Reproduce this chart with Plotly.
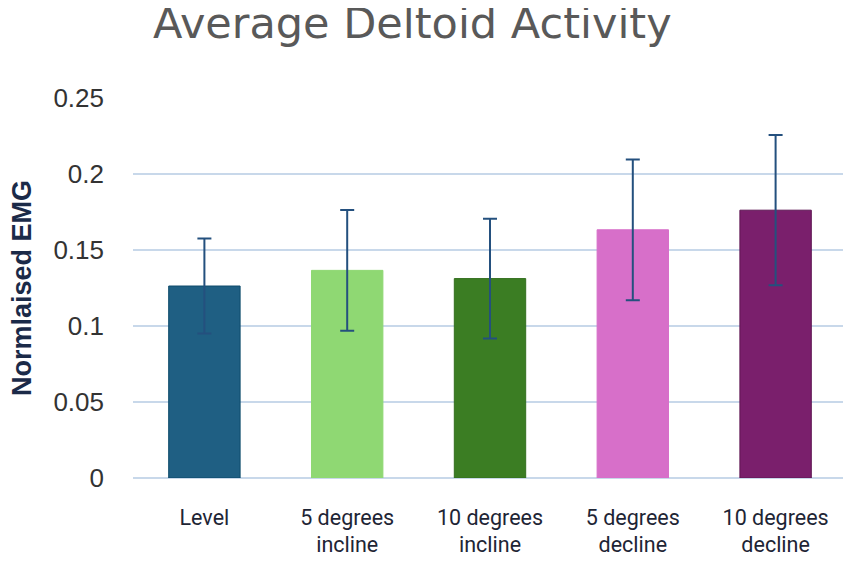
import plotly.graph_objects as go

categories = ["Level", "5 degrees<br>incline", "10 degrees<br>incline", "5 degrees<br>decline", "10 degrees<br>decline"]
means = [0.1263, 0.1366, 0.1312, 0.1633, 0.1762]
errors = [0.0312, 0.0397, 0.0394, 0.0463, 0.0494]
bar_colors = ["#1f5f83", "#8fd873", "#3b7d23", "#d76fc9", "#7a1f6c"]
line_colors = ["#0d4a6b", "#8fd873", "#346f1f", "#d76fc9", "#5e1653"]
y_ticks = [0, 0.05, 0.1, 0.15, 0.2, 0.25]
y_tick_text = ["0", "0.05", "0.1", "0.15", "0.2", "0.25"]

W, H = 843, 566  # page body has an 8px margin

fig = go.Figure()
fig.add_trace(go.Bar(
    x=categories,
    y=means,
    marker=dict(color=bar_colors, line=dict(color=line_colors, width=1)),
    error_y=dict(type="data", array=errors, visible=True,
                 color="#24507e", thickness=2, width=7),
    width=0.5,
))

fig.update_layout(
    width=W, height=H,
    paper_bgcolor="white", plot_bgcolor="white",
    margin=dict(l=125, r=4, t=90, b=96, autoexpand=False),
    showlegend=False,
    title=dict(text="Average Deltoid Activity",
               font=dict(family="DejaVu Sans", size=43, color="#595959"),
               x=145/W, xanchor="left", xref="container",
               y=1, yanchor="top", yref="container", automargin=False,
               pad=dict(t=0, b=0, l=0, r=0)),
    bargap=0.5,
)
fig.update_yaxes(
    range=[0, 0.25], automargin=False,
    tickvals=y_ticks, ticktext=y_tick_text,
    showgrid=True, gridcolor="#c8d8ea", gridwidth=2,
    zeroline=True, zerolinecolor="#c8d8ea", zerolinewidth=2,
    showline=False, ticks="",
    ticklabelstandoff=28,
    tickfont=dict(family="Liberation Sans, Arial, sans-serif", size=26, color="#333333"),
)
fig.update_xaxes(
    showline=False, ticks="", automargin=False,
    ticklabelstandoff=24,
    tickfont=dict(family="Liberation Sans Narrow, Roboto, sans-serif", size=21.5, color="#1e2535"),
)
fig.add_annotation(
    text="<b>Normlaised EMG</b>", textangle=-90,
    xref="paper", yref="paper", x=(14 - 125) / (W - 125 - 4), y=0.5,
    xanchor="center", yanchor="middle", showarrow=False,
    font=dict(family="Liberation Sans, Arial, sans-serif", size=27, color="#1b2a48"),
)

fig.write_html("out.html")
